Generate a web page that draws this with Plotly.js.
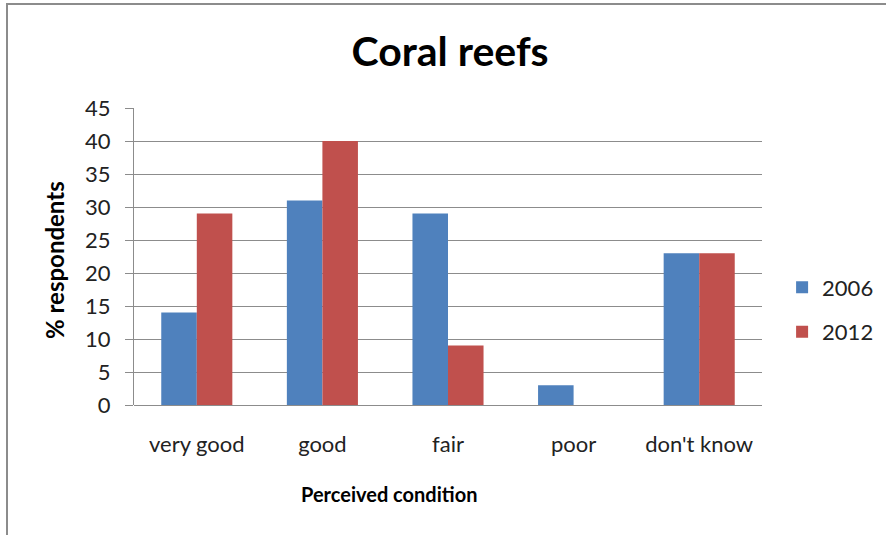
<!DOCTYPE html>
<html>
<head>
<meta charset="utf-8">
<script src="https://cdn.plot.ly/plotly-3.0.1.min.js"></script>
<style>
  html, body { margin: 0; padding: 0; background: #fff; overflow: hidden; }
  #frame { position: absolute; left: 6px; top: 3px; width: 900px; height: 600px;
           border-top: 2px solid #8c8c8c; border-left: 2px solid #8c8c8c; }
  #chart { position: absolute; left: 0; top: 0; width: 886px; height: 535px; }
</style>
</head>
<body>
<div id="frame"></div>
<div id="chart"></div>
<script>
const categories = ["very good", "good", "fair", "poor", "don't know"];
const values2006 = [14, 31, 29, 3, 23];
const values2012 = [29, 40, 9, 0, 23];
const yTicks = [0, 5, 10, 15, 20, 25, 30, 35, 40, 45];

const FONT = "Lato, 'Open Sans', sans-serif";

const traces = [
  { type: "bar", name: "2006", x: categories, y: values2006, legendgroup: "a",
    marker: { color: "#4F81BD", line: { width: 0 } } },
  { type: "bar", name: "2012", x: categories, y: values2012, legendgroup: "b",
    marker: { color: "#C0504D", line: { width: 0 } } }
];

const layout = {
  width: 886, height: 535,
  margin: { l: 134, r: 124, t: 108, b: 130, pad: 0, autoexpand: false },
  paper_bgcolor: "rgba(0,0,0,0)",
  plot_bgcolor: "rgba(0,0,0,0)",
  font: { family: FONT, color: "#222", size: 22 },
  barmode: "group",
  bargap: 0.434,
  bargroupgap: 0,
  showlegend: true,
  legend: { x: 1.032, y: 0.32, xanchor: "left", yanchor: "middle",
            font: { family: FONT, size: 22, color: "#222" },
            traceorder: "grouped", tracegroupgap: 13,
            itemwidth: 30, bgcolor: "rgba(0,0,0,0)" },
  title: { text: "<b>Coral reefs</b>", x: 0.508, xanchor: "center", y: 0.903, yanchor: "middle",
           font: { family: FONT, size: 41, color: "#000" } },
  xaxis: {
    type: "category", showgrid: false, showline: false, ticks: "",
    tickfont: { family: FONT, size: 22, color: "#222" },
    ticklabelstandoff: 24
  },
  yaxis: {
    range: [0, 45], tickvals: yTicks, ticktext: yTicks.map(String),
    showgrid: true, gridcolor: "#8c8c8c", gridwidth: 1,
    showline: true, linecolor: "#8c8c8c", linewidth: 1,
    ticks: "outside", ticklen: 8, tickcolor: "#8c8c8c",
    ticklabelstandoff: 10,
    zeroline: true, zerolinecolor: "#8c8c8c", zerolinewidth: 1,
    tickfont: { family: FONT, size: 22, color: "#222" }
  },
  annotations: [
    { text: "<b>Perceived condition</b>", xref: "paper", yref: "paper",
      x: (389 - 134) / 628, y: -(494 - 405) / 297, xanchor: "center", yanchor: "middle",
      showarrow: false, font: { family: FONT, size: 20, color: "#000" } },
    { text: "<b>% respondents</b>", xref: "paper", yref: "paper",
      x: -(134 - 54) / 628, y: (405 - 260) / 297, xanchor: "center", yanchor: "middle", textangle: -90,
      showarrow: false, font: { family: FONT, size: 24, color: "#000" } }
  ]
};

Plotly.newPlot("chart", traces, layout, { displayModeBar: false, staticPlot: true });
</script>
</body>
</html>
